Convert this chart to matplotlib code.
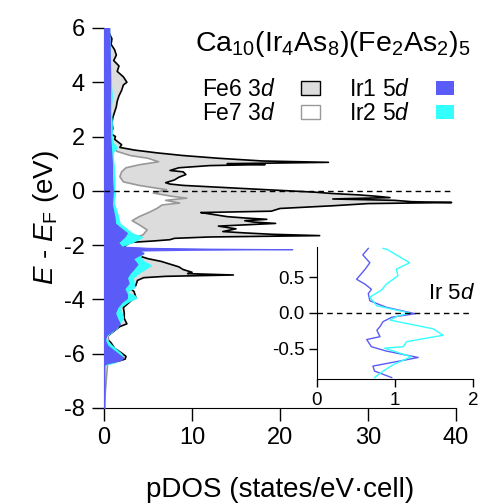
import matplotlib
matplotlib.use('Agg')
import matplotlib.pyplot as plt
from matplotlib.patches import Patch

plt.rcParams['font.family'] = ['Liberation Sans', 'DejaVu Sans']
plt.rcParams['mathtext.fontset'] = 'custom'
plt.rcParams['mathtext.rm'] = 'Liberation Sans'
plt.rcParams['mathtext.it'] = 'Liberation Sans:italic'

# Fe6 3d pDOS (energy in eV, states/eV.cell)
fe6_E = [6.0, 5.8, 5.6, 5.4, 5.2, 5.0, 4.8, 4.6, 4.4, 4.2, 4.0, 3.9, 3.7, 3.5, 3.3,
         3.1, 2.9, 2.7, 2.5, 2.3, 2.1, 2.0, 1.9, 1.8, 1.7, 1.6, 1.5, 1.4, 1.3, 1.2,
         1.1, 1.05, 1.0, 0.97, 0.93, 0.85, 0.8, 0.75, 0.7, 0.6, 0.5, 0.4, 0.3, 0.25,
         0.2, 0.15, 0.1, 0.05, 0.0, -0.05, -0.1, -0.15, -0.2, -0.25, -0.3, -0.35,
         -0.4, -0.43, -0.47, -0.55, -0.65, -0.75, -0.8, -0.85, -0.95, -1.0, -1.05,
         -1.1, -1.15, -1.2, -1.3, -1.4, -1.5, -1.55, -1.6, -1.65, -1.7, -1.75, -1.8,
         -1.85, -1.9, -2.0, -2.1, -2.2, -2.3, -2.4, -2.5, -2.6, -2.7, -2.8, -2.9,
         -3.0, -3.05, -3.1, -3.15, -3.2, -3.3, -3.5, -3.6, -3.7, -3.9, -4.1, -4.3,
         -4.5, -4.7, -4.9, -5.0, -5.2, -5.4, -5.6, -5.8, -6.0, -6.1, -6.2, -6.3,
         -6.4, -8.0]
fe6_dos = [0.4, 0.6, 0.9, 0.8, 1.2, 1.4, 1.1, 1.7, 1.5, 2.2, 2.6, 2.2, 2.0, 1.7, 1.5,
           1.4, 1.2, 1.0, 0.9, 1.0, 0.8, 1.3, 1.2, 1.6, 2.0, 1.8, 3.5, 6.0, 9.0, 13.0,
           18.0, 25.5, 14.0, 18.3, 12.0, 8.5, 8.0, 7.5, 9.0, 9.3, 8.5, 8.0, 7.0, 7.5,
           9.0, 12.0, 15.0, 18.0, 21.0, 24.0, 26.0, 29.0, 31.0, 32.5, 26.0, 33.0,
           35.0, 39.5, 30.0, 26.0, 20.0, 19.0, 11.0, 12.0, 14.0, 16.0, 18.5,
           16.0, 17.0, 19.5, 13.0, 15.0, 13.5, 16.0, 19.0, 24.5, 12.0, 8.0, 7.5,
           5.5, 3.0, 2.5, 2.2, 2.4, 3.0, 4.0, 5.0, 6.5, 7.5, 8.5, 9.0,
           10.0, 9.5, 14.7, 7.0, 4.5, 3.8, 3.6, 2.9, 3.4, 3.6, 2.9, 2.2,
           2.3, 2.3, 2.6, 1.8, 1.0, 0.2, 0.8, 1.2, 2.1, 2.5, 2.4, 1.3,
           0.0, 0.0]

# Fe7 3d pDOS
fe7_E = [6.0, 4.0, 2.0, 1.6, 1.45, 1.3, 1.2, 1.07, 0.96, 0.85, 0.7, 0.52, 0.33,
         0.2, 0.04, -0.08, -0.2, -0.27, -0.35, -0.45, -0.52, -0.65, -0.78, -0.95,
         -1.1, -1.25, -1.44, -1.63, -1.8, -2.0, -2.5, -3.0, -4.0, -5.0, -6.0, -8.0]
fe7_dos = [0.3, 0.5, 0.6, 0.9, 1.5, 3.0, 5.0, 6.2, 4.0, 2.5, 2.0, 1.8, 2.2,
           4.0, 7.1, 5.6, 7.7, 9.4, 7.0, 8.6, 6.6, 6.0, 5.2, 4.0,
           3.2, 4.0, 4.9, 4.4, 2.5, 1.0, 1.0, 1.0, 1.0, 0.5, 0.5, 0.0]

# Ir2 5d pDOS
ir2_E = [6.0, 5.0, 4.0, 3.5, 3.0, 2.5, 2.0, 1.8, 1.6, 1.4, 1.0, 0.5, 0.0, -0.1,
         -0.4, -0.8, -1.2, -1.55, -1.7, -1.89, -2.05, -2.25, -2.44, -2.6, -2.74,
         -3.0, -3.2, -3.55, -3.74, -3.85, -3.95, -4.1, -4.3, -4.67, -5.04, -5.2,
         -5.4, -5.63, -6.0, -6.15, -6.33, -6.42, -8.0]
ir2_dos = [0.6, 0.7, 0.8, 0.9, 0.8, 0.9, 0.9, 1.0, 1.5, 1.0, 1.1, 1.2, 1.2, 1.3,
           1.1, 1.5, 1.8, 3.2, 4.4, 3.3, 2.0, 4.5, 4.1, 4.6, 5.4,
           4.1, 3.3, 3.5, 2.6, 3.5, 3.7, 2.7, 1.8, 2.2, 1.5, 0.9,
           0.1, 0.7, 2.0, 2.2, 1.2, 0.0, 0.0]

# Ir1 5d pDOS
ir1_E = [6.0, 5.0, 4.0, 3.0, 2.0, 1.5, 1.0, 0.5, 0.0, -0.5, -1.0, -1.2, -1.4,
         -1.55, -1.7, -1.9, -2.05, -2.1, -2.13, -2.15, -2.17, -2.2, -2.3, -2.4,
         -2.5, -2.7, -2.9, -3.0, -3.2, -3.4, -3.6, -3.8, -3.95, -4.1, -4.3, -4.5,
         -4.7, -4.9, -5.1, -5.3, -5.5, -5.7, -5.9, -6.0, -6.15, -6.25, -6.35,
         -6.4, -8.0]
ir1_dos = [0.6, 0.65, 0.7, 0.65, 0.7, 0.8, 0.9, 0.9, 1.0, 0.9, 1.2, 1.25, 2.0,
           2.6, 2.3, 1.6, 2.0, 5.0, 12.0, 21.4, 10.0, 4.0, 4.5, 3.8,
           3.3, 3.8, 3.3, 3.0, 2.6, 2.8, 2.3, 2.6, 2.6, 2.0, 1.5, 1.25,
           1.5, 1.8, 1.2, 0.3, 0.1, 0.4, 1.2, 1.6, 2.2, 1.8, 0.4,
           0.05, 0.05]

# inset: Ir 5d near E_F
in_ir1_E = [0.90, 0.81, 0.70, 0.61, 0.47, 0.40, 0.33, 0.27, 0.17, 0.08, -0.01,
            -0.06, -0.12, -0.19, -0.24, -0.33, -0.37, -0.47, -0.53, -0.62, -0.67,
            -0.74, -0.81, -0.90]
in_ir1_dos = [0.66, 0.59, 0.68, 0.62, 0.51, 0.62, 0.70, 0.66, 0.68, 0.89, 1.26,
              0.96, 0.85, 0.81, 0.77, 0.81, 0.64, 0.70, 0.89, 1.30, 1.06,
              0.72, 0.74, 0.96]
in_ir2_E = [0.90, 0.88, 0.70, 0.61, 0.52, 0.40, 0.32, 0.22, 0.10, 0.00, -0.05,
            -0.10, -0.22, -0.31, -0.40, -0.47, -0.49, -0.61, -0.72, -0.81, -0.90]
in_ir2_dos = [0.85, 0.91, 1.19, 1.02, 1.04, 0.89, 0.83, 0.68, 0.77, 1.19, 1.02,
              0.94, 1.49, 1.62, 1.15, 1.11, 0.87, 1.21, 0.98, 0.85, 0.74]

blue = '#5b5bf7'
cyan = '#33ffff'

fig = plt.figure(figsize=(4.8, 5.04), dpi=100)
ax = fig.add_axes([0.2167, 0.1905, 0.7333, 0.754])

ax.fill_betweenx(fe6_E, 0, fe6_dos, facecolor='#dcdcdc', edgecolor='none', zorder=1)
ax.plot(fe6_dos, fe6_E, color='black', lw=1.2, zorder=2)
ax.fill_betweenx(fe7_E, 0, fe7_dos, facecolor='white', edgecolor='none', zorder=3)
ax.plot(fe7_dos, fe7_E, color='#999999', lw=1.2, zorder=4)
ax.fill_betweenx(ir2_E, 0, ir2_dos, facecolor=cyan, edgecolor=cyan, lw=0.5, zorder=5)
ax.fill_betweenx(ir1_E, 0, ir1_dos, facecolor=blue, edgecolor=blue, lw=0.8, zorder=6)
ax.plot([0.05] * 2, [-8, 6], color=blue, lw=1.2, zorder=6)
ax.axhline(0, xmin=0, xmax=0.99, color='black', lw=1, ls=(0, (4, 3)), zorder=7)

ax.set_xlim(0, 40)
ax.set_ylim(-8, 6)
ax.set_xticks([0, 10, 20, 30, 40])
ax.set_yticks([6, 4, 2, 0, -2, -4, -6, -8])
ax.set_yticklabels(['6', '4', '2', '0', '-2', '-4', '-6', '-8'])
for s in ['top', 'right']:
    ax.spines[s].set_visible(False)
ax.tick_params(direction='out', length=9, width=1, labelsize=17, pad=5)
ax.set_xlabel('pDOS (states/eV\u00b7cell)', fontsize=20, labelpad=20)
ax.set_ylabel('$E$ - $E_\\mathrm{F}$ (eV)', fontsize=20, labelpad=2)

fig.text(0.98, 0.913, 'Ca$_{10}$(Ir$_4$As$_8$)(Fe$_2$As$_2$)$_5$',
         ha='right', va='center', fontsize=20.5)

handles = [Patch(facecolor='#dcdcdc', edgecolor='black', lw=1),
           Patch(facecolor='white', edgecolor='#999999', lw=1),
           Patch(facecolor=blue, edgecolor='none'),
           Patch(facecolor=cyan, edgecolor='none')]
labels = ['Fe6 3$d$', 'Fe7 3$d$', 'Ir1 5$d$', 'Ir2 5$d$']
fig.legend(handles, labels, ncol=2, markerfirst=False, frameon=False,
           loc='upper right', bbox_to_anchor=(0.946, 0.845), fontsize=16.5,
           handlelength=0.8, handleheight=0.55, handletextpad=1.1,
           columnspacing=1.3, labelspacing=0.05, borderpad=0, borderaxespad=0)

# inset
ins = fig.add_axes([0.660, 0.248, 0.325, 0.262])
ins.plot(in_ir1_dos, in_ir1_E, color=blue, lw=1)
ins.plot(in_ir2_dos, in_ir2_E, color=cyan, lw=1)
ins.axhline(0, color='black', lw=1, ls=(0, (4, 3)))
ins.set_xlim(0, 2)
ins.set_ylim(-0.92, 0.92)
ins.set_xticks([0, 1, 2])
ins.set_yticks([0.5, 0.0, -0.5])
ins.set_yticklabels(['0.5', '0.0', '-0.5'])
for s in ['top', 'right']:
    ins.spines[s].set_visible(False)
ins.patch.set_alpha(0)
ins.tick_params(direction='out', length=6, width=1, labelsize=13.5, pad=3)
ins.text(1.42, 0.27, 'Ir 5$d$', fontsize=16, ha='left', va='center')

fig.savefig('out.png', dpi=100)
